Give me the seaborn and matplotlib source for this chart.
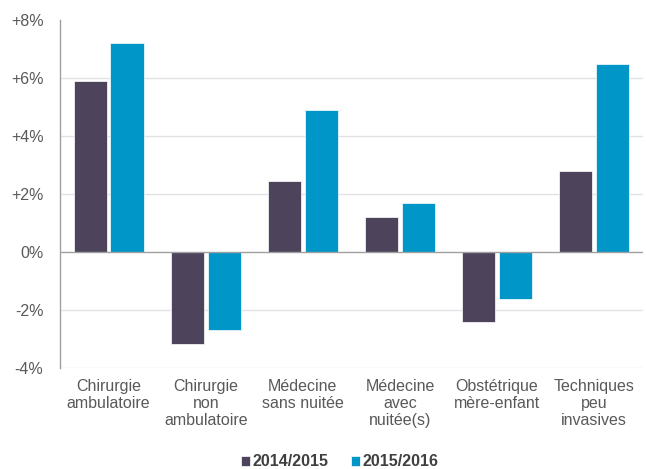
import numpy as np
import pandas as pd
import seaborn as sns
from matplotlib import pyplot as plt

categories = ["Chirurgie\nambulatoire", "Chirurgie\nnon\nambulatoire", "Médecine\nsans nuitée",
              "Médecine\navec\nnuitée(s)", "Obstétrique\nmère-enfant", "Techniques\npeu\ninvasives"]
series = ["2014/2015", "2015/2016"]
vals_2015 = [5.9, -3.15, 2.45, 1.2, -2.4, 2.8]
vals_2016 = [7.2, -2.7, 4.9, 1.7, -1.6, 6.5]
yticks = [-4, -2, 0, 2, 4, 6, 8]
ytick_labels = ["-4%", "-2%", "0%", "+2%", "+4%", "+6%", "+8%"]

df = pd.DataFrame({
    "cat": categories * 2,
    "serie": [series[0]] * 6 + [series[1]] * 6,
    "val": vals_2015 + vals_2016,
})

sns.set_style("white")
plt.rcParams['font.family'] = ['Liberation Sans', 'DejaVu Sans']

fig, ax = plt.subplots(figsize=(6.46, 4.69), dpi=100)
fig.subplots_adjust(left=0.093, right=0.995, top=0.957, bottom=0.215)

sns.barplot(data=df, x="cat", y="val", hue="serie", palette=["#4d445b", "#0096c8"],
            saturation=1, width=0.76, gap=0.1, ax=ax, edgecolor="white", linewidth=0.5)

ax.set_ylim(-4, 8)
ax.set_xlim(-0.5, 5.5)
ax.set_yticks(yticks)
ax.set_yticklabels(ytick_labels)
ax.set_xlabel("")
ax.set_ylabel("")
ax.tick_params(axis="both", colors="#595959", labelsize=11.5, length=0)
ax.tick_params(axis="y", pad=12)
ax.tick_params(axis="x", pad=8)
for t in ax.get_xticklabels():
    t.set_linespacing(1.15)

for y in yticks[:-1]:
    if y != 0:
        ax.axhline(y, color="#e2e1e8", lw=1, zorder=0)
ax.axhline(0, color="#a0a0a0", lw=1, zorder=3)

for s in ["top", "right", "bottom"]:
    ax.spines[s].set_visible(False)
ax.spines["left"].set_color("#a0a0a0")
ax.spines["left"].set_linewidth(1)

handles, labels = ax.get_legend_handles_labels()
ax.get_legend().remove()
leg = fig.legend(handles, labels, loc="center", bbox_to_anchor=(0.526, 0.015), ncol=2, frameon=False,
                 handlelength=0.55, handleheight=0.55, handletextpad=0.15, columnspacing=1.4,
                 prop={"weight": "bold", "size": 11.5})
for t in leg.get_texts():
    t.set_color("#404040")

fig.savefig("out.png", dpi=100)
